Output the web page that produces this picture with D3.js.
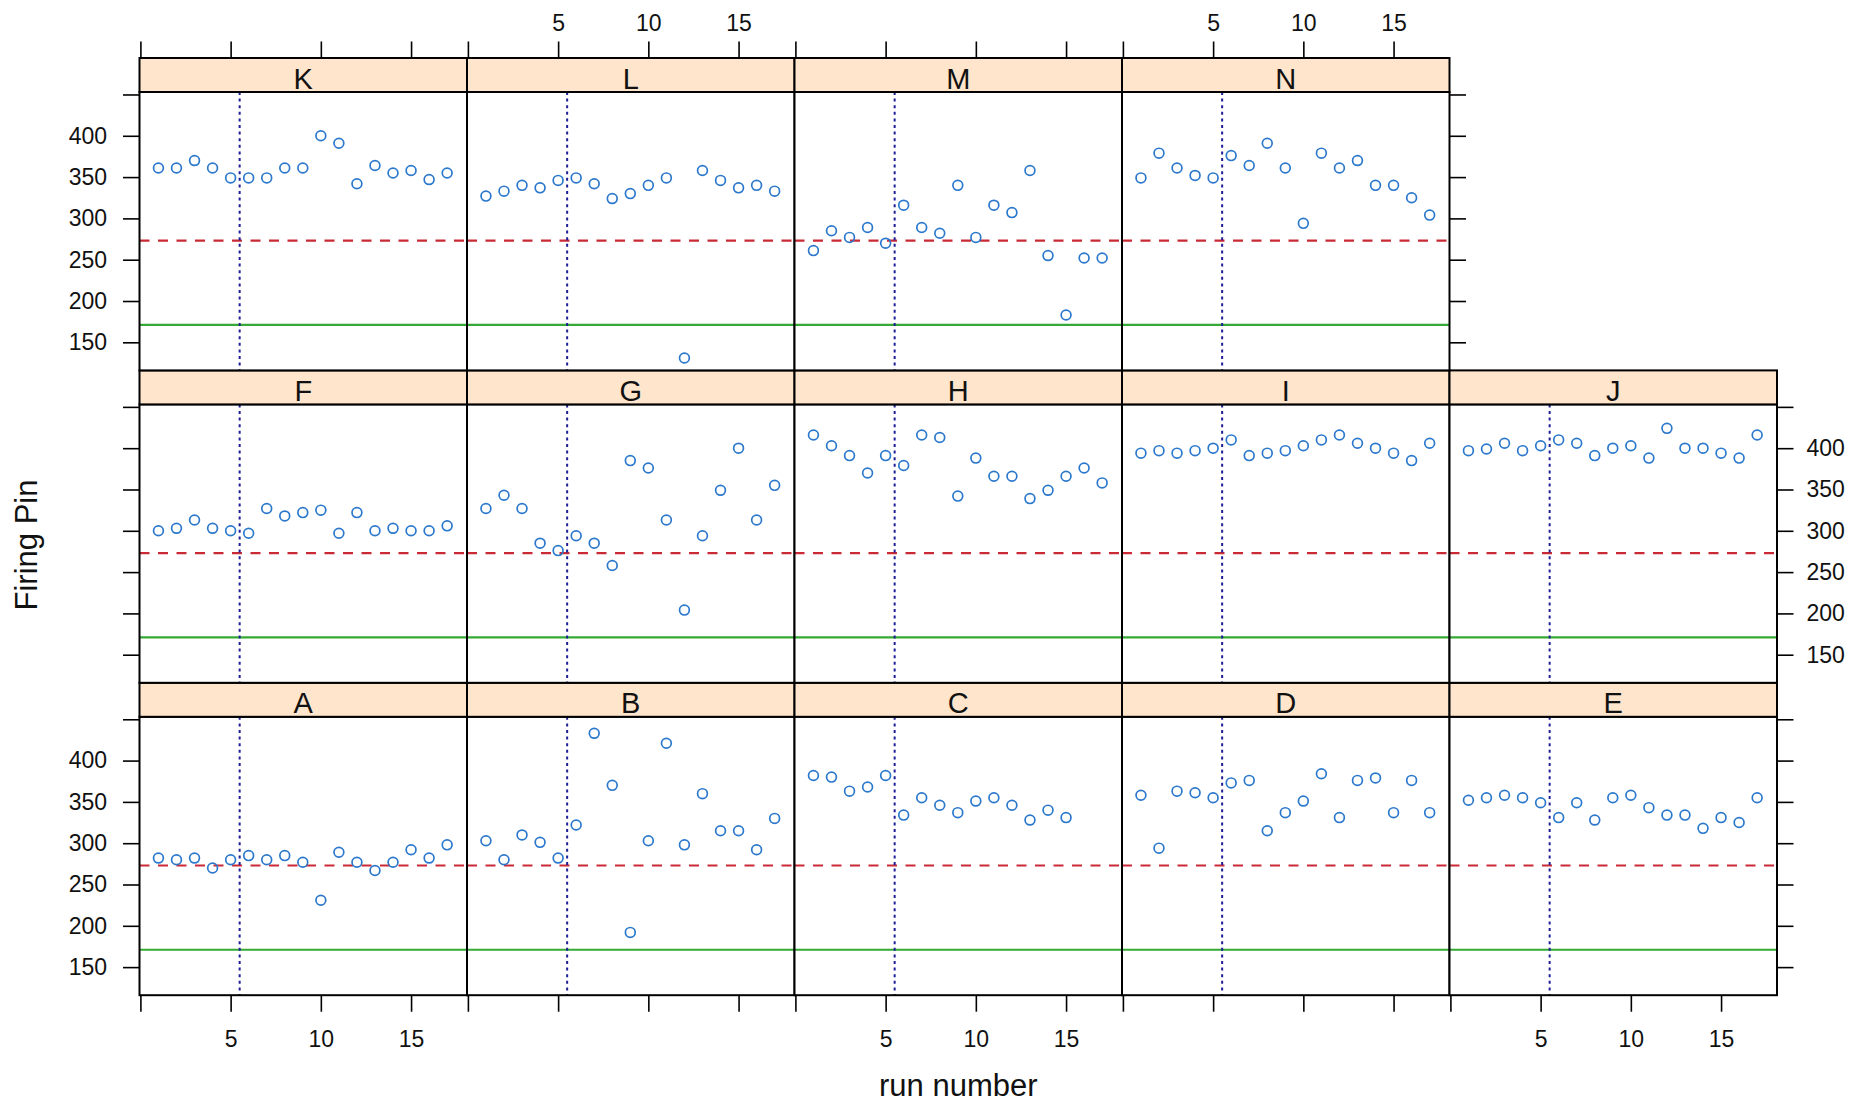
<!DOCTYPE html>
<html>
<head>
<meta charset="utf-8">
<script src="https://cdn.jsdelivr.net/npm/d3@7"></script>
<style>
  body { margin: 0; background: #fff; }
  svg { display: block; font-family: "Liberation Sans", Arial, sans-serif; }
</style>
</head>
<body>
<svg id="chart" width="1860" height="1102"></svg>
<script>
// ---------------- data ----------------
const panelNames = ["A","B","C","D","E","F","G","H","I","J","K","L","M","N"];
const runNumbers = [1,2,3,4,5,6,7,8,9,10,11,12,13,14,15,16,17];

const valuesA = [282, 280, 282, 270, 280, 285, 280, 285, 277, 231, 289, 277, 267, 277, 292, 282, 298];
const valuesB = [303, 280, 310, 301, 282, 322, 433, 370, 192, 303, 421, 298, 360, 315, 315, 292, 330];
const valuesC = [382, 380, 363, 368, 382, 334, 355, 346, 337, 351, 355, 346, 328, 340, 331];
const valuesD = [358, 294, 363, 361, 355, 373, 376, 315, 337, 351, 384, 331, 376, 379, 337, 376, 337];
const valuesE = [352, 355, 358, 355, 349, 331, 349, 328, 355, 358, 343, 334, 334, 318, 331, 325, 355];
const valuesF = [300, 303, 313, 303, 300, 297, 327, 318, 322, 325, 297, 322, 300, 303, 300, 300, 306];
const valuesG = [327, 343, 327, 285, 276, 294, 285, 258, 385, 376, 313, 204, 294, 349, 400, 313, 355];
const valuesH = [416, 403, 391, 370, 391, 379, 416, 413, 342, 388, 366, 366, 339, 349, 366, 376, 358];
const valuesI = [394, 397, 394, 397, 400, 410, 391, 394, 397, 403, 410, 416, 406, 400, 394, 385, 406];
const valuesJ = [397, 399, 406, 397, 403, 410, 406, 391, 400, 403, 388, 424, 400, 400, 394, 388, 416];
const valuesK = [361, 361, 370, 361, 349, 349, 349, 361, 361, 400, 391, 342, 364, 355, 358, 347, 355];
const valuesL = [327, 333, 340, 337, 346, 349, 342, 324, 330, 340, 349, 131, 358, 346, 337, 340, 333];
const valuesM = [261, 285, 277, 289, 270, 316, 289, 282, 340, 277, 316, 307, 358, 255, 183, 252, 252];
const valuesN = [349, 379, 361, 352, 349, 376, 364, 391, 361, 294, 379, 361, 370, 340, 340, 325, 304];

const xTicks = [0, 5, 10, 15];
const xTickLabels = ["", "5", "10", "15"];
const yTicks = [150, 200, 250, 300, 350, 400, 450];
const yTickLabels = ["150", "200", "250", "300", "350", "400", ""];

const dashedRef = 273;   // red dashed horizontal line
const solidRef = 171;    // green solid horizontal line
const verticalRef = 5.5; // blue dotted vertical line

const xLabel = "run number";
const yLabel = "Firing Pin";

// ---------------- layout ----------------
const seriesByPanel = {
  A: valuesA, B: valuesB, C: valuesC, D: valuesD, E: valuesE,
  F: valuesF, G: valuesG, H: valuesH, I: valuesI, J: valuesJ,
  K: valuesK, L: valuesL, M: valuesM, N: valuesN
};

const svg = d3.select("#chart");
const nCols = 5, nRows = 3;
const gridLeft = 139.5, colW = 327.5;
const gridTop = 58, rowH = 312.4, stripH = 34;
const tickLen = 16.5;
const tickFont = 23, titleFont = 31, stripFont = 29;

const xDomain = [-0.05, 18.1];
const yDomain = [116, 453];

const cDot = "#2b78cc", cDash = "#c92a36", cSolid = "#35a935", cVert = "#1e1e96";

function cell(i) {
  const col = i % nCols;
  const rowFromBottom = Math.floor(i / nCols);
  const rowFromTop = nRows - 1 - rowFromBottom;
  const x0 = gridLeft + col * colW;
  const top = gridTop + rowFromTop * rowH;
  return { col, rowFromTop, x0, x1: x0 + colW, top, plotTop: top + stripH, bottom: top + rowH };
}

function styleAxis(g) {
  g.select(".domain").remove();
  g.selectAll(".tick line").attr("stroke", "#000").attr("stroke-width", 1.6);
  g.selectAll(".tick text").attr("fill", "#111").style("font-size", tickFont + "px")
    .style("font-family", '"Liberation Sans", Arial, sans-serif');
}

panelNames.forEach((name, i) => {
  const c = cell(i);
  const x = d3.scaleLinear().domain(xDomain).range([c.x0, c.x1]);
  const y = d3.scaleLinear().domain(yDomain).range([c.bottom, c.plotTop]);
  const vals = seriesByPanel[name];
  const pts = vals.map((v, k) => ({ run: runNumbers[k], v }));
  const g = svg.append("g").attr("class", "panel panel-" + name);

  // background
  g.append("rect").attr("x", c.x0).attr("y", c.plotTop).attr("width", colW)
    .attr("height", c.bottom - c.plotTop).attr("fill", "#fff");

  // reference lines
  g.append("line").attr("x1", c.x0).attr("x2", c.x1)
    .attr("y1", y(solidRef)).attr("y2", y(solidRef))
    .attr("stroke", cSolid).attr("stroke-width", 2.2);
  g.append("line").attr("x1", c.x0).attr("x2", c.x1)
    .attr("y1", y(dashedRef)).attr("y2", y(dashedRef))
    .attr("stroke", cDash).attr("stroke-width", 2.2).attr("stroke-dasharray", "10,8.5");
  g.append("line").attr("x1", x(verticalRef)).attr("x2", x(verticalRef))
    .attr("y1", c.plotTop).attr("y2", c.bottom)
    .attr("stroke", cVert).attr("stroke-width", 2).attr("stroke-dasharray", "3,3.6");

  // points
  g.selectAll("circle.pt").data(pts).join("circle").attr("class", "pt")
    .attr("cx", d => x(d.run)).attr("cy", d => y(d.v)).attr("r", 4.9)
    .attr("fill", "none").attr("stroke", cDot).attr("stroke-width", 1.7);

  // panel border
  g.append("rect").attr("x", c.x0).attr("y", c.plotTop).attr("width", colW)
    .attr("height", c.bottom - c.plotTop).attr("fill", "none")
    .attr("stroke", "#000").attr("stroke-width", 2);

  // strip
  g.append("rect").attr("x", c.x0).attr("y", c.top).attr("width", colW).attr("height", stripH)
    .attr("fill", "#ffe5cc").attr("stroke", "#000").attr("stroke-width", 2);
  g.append("text").attr("x", (c.x0 + c.x1) / 2).attr("y", c.top + stripH - 3.5)
    .attr("text-anchor", "middle").style("font-size", stripFont + "px").attr("fill", "#111")
    .text(name);

  // axes
  const isTopRow = c.rowFromTop === 0;
  const isBottomRow = c.rowFromTop === nRows - 1;
  const lastInRow = (i % nCols === nCols - 1) || i === panelNames.length - 1;

  if (c.col === 0) {
    const labelled = (c.rowFromTop % 2 === 0);
    const ax = d3.axisLeft(y).tickValues(yTicks).tickSize(tickLen).tickPadding(16)
      .tickFormat((d, k) => labelled ? yTickLabels[k] : "");
    svg.append("g").attr("transform", `translate(${c.x0},0)`).call(ax).call(styleAxis);
  }
  if (lastInRow) {
    const labelled = (c.rowFromTop % 2 === 1);
    const ax = d3.axisRight(y).tickValues(yTicks).tickSize(tickLen).tickPadding(13)
      .tickFormat((d, k) => labelled ? yTickLabels[k] : "");
    svg.append("g").attr("transform", `translate(${c.x1},0)`).call(ax).call(styleAxis);
  }
  if (isBottomRow) {
    const labelled = (c.col % 2 === 0);
    const ax = d3.axisBottom(x).tickValues(xTicks).tickSize(tickLen).tickPadding(19)
      .tickFormat((d, k) => labelled ? xTickLabels[k] : "");
    svg.append("g").attr("transform", `translate(0,${c.bottom})`).call(ax).call(styleAxis);
  }
  if (isTopRow) {
    const labelled = (c.col % 2 === 1);
    const ax = d3.axisTop(x).tickValues(xTicks).tickSize(tickLen).tickPadding(11)
      .tickFormat((d, k) => labelled ? xTickLabels[k] : "");
    svg.append("g").attr("transform", `translate(0,${c.top})`).call(ax).call(styleAxis);
  }
});

// titles
svg.append("text").attr("x", gridLeft + nCols * colW / 2).attr("y", 1096)
  .attr("text-anchor", "middle").style("font-size", titleFont + "px").attr("fill", "#111")
  .text(xLabel);
svg.append("text").attr("transform", "translate(37,545) rotate(-90)")
  .attr("text-anchor", "middle").style("font-size", titleFont + "px").attr("fill", "#111")
  .text(yLabel);
</script>
</body>
</html>
